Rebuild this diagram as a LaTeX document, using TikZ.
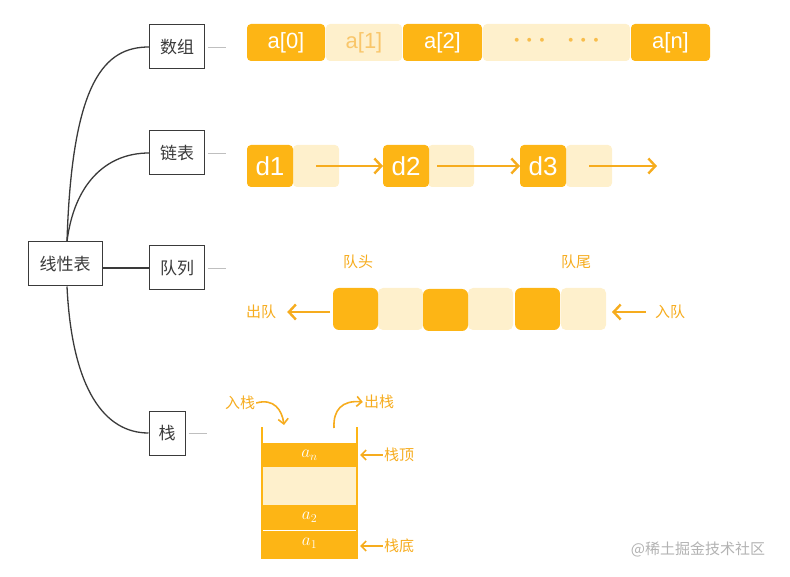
\documentclass[tikz,border=0pt]{standalone}
\usepackage{fontspec}
\setmainfont{Liberation Sans}
\newfontfamily\cjk{Noto Sans CJK SC}
\usetikzlibrary{arrows.meta}
\definecolor{dk}{HTML}{FDB515}
\definecolor{lt}{HTML}{FEF0CC}
\definecolor{ok}{HTML}{F6AC1E}
\definecolor{lk}{HTML}{F9C66A}
\definecolor{mm}{HTML}{3A3A3A}
\tikzset{
  mbox/.style={draw=mm, line width=1pt, fill=white, inner sep=0pt, font=\cjk\fontsize{17}{17}\selectfont, text=mm},
  branch/.style={draw=mm, line width=1.3pt},
  stub/.style={draw=gray!50, line width=0.8pt},
  cell/.style={inner sep=0pt, outer sep=0pt, rounded corners=4pt, minimum height=37pt, font=\fontsize{22}{22}\selectfont},
  dcell/.style={cell, fill=dk, text=white},
  lcell/.style={cell, fill=lt, text=lk},
  lcellb/.style={inner sep=0pt, outer sep=0pt, rounded corners=4pt, minimum height=42pt, minimum width=46pt, fill=lt},
  dcellb/.style={inner sep=0pt, outer sep=0pt, rounded corners=4pt, minimum height=42pt, minimum width=46pt, fill=dk, text=white, font=\fontsize{26}{26}\selectfont},
  qd/.style={inner sep=0pt, outer sep=0pt, rounded corners=6pt, minimum height=42pt, minimum width=45pt, fill=dk},
  ql/.style={inner sep=0pt, outer sep=0pt, rounded corners=5pt, minimum height=42pt, minimum width=45pt, fill=lt},
  hand/.style={text=ok, font=\cjk\fontsize{15}{15}\selectfont, inner sep=1pt},
  arr/.style={draw=ok, line width=2.4pt, -{Straight Barb[length=7pt,width=15pt,line width=2.4pt]}},
  sarr/.style={draw=ok, line width=1.6pt, -{Straight Barb[length=5pt,width=10pt,line width=1.6pt]}},
}
\begin{document}
\begin{tikzpicture}[x=1pt,y=-1pt]
\useasboundingbox (0,0) rectangle (790,577);
% mind map
\node[mbox, minimum width=74pt, minimum height=44pt] (root) at (65,264) {线性表};
\node[mbox, minimum width=55pt, minimum height=44pt] (arr) at (177,47) {数组};
\node[mbox, minimum width=55pt, minimum height=44pt] (lnk) at (177,153) {链表};
\node[mbox, minimum width=55pt, minimum height=44pt] (que) at (177,268) {队列};
\node[mbox, minimum width=36pt, minimum height=44pt] (stk) at (167,433) {栈};
\draw[branch] ([xshift=2pt]root.north) .. controls (72,80) and (105,47) .. (arr.west);
\draw[branch] ([xshift=2pt]root.north) .. controls (74,185) and (105,153) .. (lnk.west);
\draw[branch] (root.east |- que.west) -- (que.west);
\draw[branch] ([xshift=2pt]root.south) .. controls (72,390) and (105,433) .. (stk.west);
\coordinate (s1) at (226,47); \coordinate (s2) at (226,153);
\coordinate (s3) at (226,268); \coordinate (s4) at (207,433);
\draw[stub] ([xshift=3pt]arr.east) -- (s1);
\draw[stub] ([xshift=3pt]lnk.east) -- (s2);
\draw[stub] ([xshift=3pt]que.east) -- (s3);
\draw[stub] ([xshift=3pt]stk.east) -- (s4);
% array
\node[dcell, minimum width=78pt] (a0) at (286,42.5) {a[0]};
\node[lcell, minimum width=76pt] (a1) at (364,42.5) {a[1]};
\node[dcell, minimum width=79pt] (a2) at (442.5,42.5) {a[2]};
\node[lcell, minimum width=147pt, font=\fontsize{24}{24}\selectfont, text=ok!80] (ad) at (556.5,42.5) {\raisebox{4pt}{\boldmath$\cdots\;\;\cdots$}};
\node[dcell, minimum width=79pt] (an) at (670.5,42.5) {a[n]};
% linked list
\node[lcellb] (d1n) at (316,166) {};
\node[dcellb] (d1) at (270,166) {d1};
\node[lcellb] (d2n) at (451,166) {};
\node[dcellb] (d2) at (406,166) {d2};
\node[lcellb] (d3n) at (589,166) {};
\node[dcellb] (d3) at (543,166) {d3};
\coordinate (dend) at (657,166);
\draw[arr] (d1n.center) -- (d2.west);
\draw[arr] ([xshift=-14pt]d2n.center) -- (d3.west);
\draw[arr] (d3n.center) -- (dend);
% queue
\node[ql] (q2) at (400.5,309) {};
\node[ql] (q4) at (490.5,309) {};
\node[ql] (q6) at (583.5,309) {};
\node[qd] (q1) at (355.5,309) {};
\node[qd] (q3) at (445.5,310) {};
\node[qd] (q5) at (537.5,309) {};
\node[hand] (qh) at (358,262) {队头};
\node[hand] (qt) at (576,262) {队尾};
\node[hand] (deq) at (261,312) {出队};
\node[hand] (enq) at (670,312) {入队};
\draw[arr] ([xshift=-3pt]q1.west |- deq) -- ([xshift=10pt]deq.east);
\draw[arr] ([xshift=-8pt]enq.west) -- ([xshift=6pt]q6.east |- enq);
% stack
\node[inner sep=0pt, outer sep=0pt, fill=dk, minimum width=95pt, minimum height=24pt, text=white, font=\fontsize{17}{17}\selectfont] (sn) at (309.5,455) {$a_n$};
\node[inner sep=0pt, outer sep=0pt, fill=lt, minimum width=95pt, minimum height=38pt] (sm) at (309.5,486) {};
\node[inner sep=0pt, outer sep=0pt, fill=dk, minimum width=95pt, minimum height=25pt, text=white, font=\fontsize{17}{17}\selectfont] (s2n) at (309.5,517.5) {$a_2$};
\node[inner sep=0pt, outer sep=0pt, fill=dk, minimum width=95pt, minimum height=27pt, text=white, font=\fontsize{17}{17}\selectfont] (s1n) at (309.5,543.5) {\raisebox{-2pt}{$a_1$}};
\draw[white, line width=1pt] (s1n.north west) -- (s1n.north east);
\draw[dk, line width=2pt] (262,427) -- (262,558) -- (357,558) -- (357,427);
\node[hand] (push) at (240,403) {入栈};
\node[hand] (pop) at (379,402) {出栈};
\node[hand] (top) at (399,455) {栈顶};
\node[hand] (bot) at (399,546) {栈底};
\coordinate (pushend) at (284,425);
\coordinate (popstart) at (334,428);
\draw[sarr] (push.east) .. controls (274,398) and (282,410) .. (pushend);
\draw[sarr] (popstart) .. controls (333,410) and (342,400) .. (pop.west);
\draw[sarr] (top.west) -- ([xshift=3pt]sn.east |- top);
\draw[sarr] (bot.west) -- ([xshift=3pt]s1n.east |- bot);
% watermark
\node[text=gray!60, font=\cjk\fontsize{15}{15}\selectfont, inner sep=0pt] (wm) at (698,549) {@稀土掘金技术社区};
\end{tikzpicture}
\end{document}
